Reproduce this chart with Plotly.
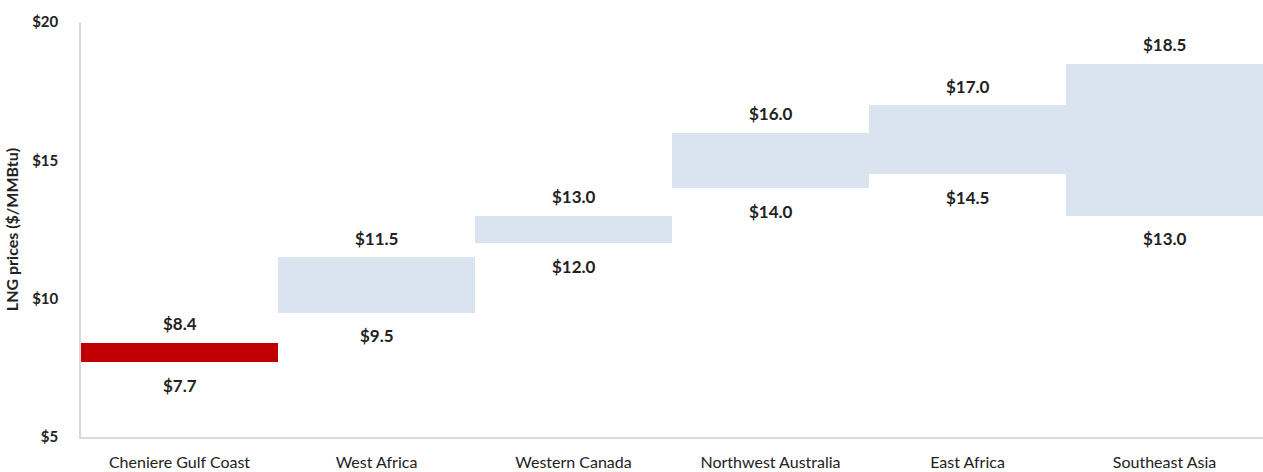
import plotly.graph_objects as go

categories = ["Cheniere Gulf Coast", "West Africa", "Western Canada",
              "Northwest Australia", "East Africa", "Southeast Asia"]
low = [7.7, 9.5, 12.0, 14.0, 14.5, 13.0]
high = [8.4, 11.5, 13.0, 16.0, 17.0, 18.5]
colors = ["#C00000", "#DAE3F0", "#DAE3F0", "#DAE3F0", "#DAE3F0", "#DAE3F0"]
y_ticks = [5, 10, 15, 20]
y_ticklabels = ["$5", "$10", "$15", "$20"]

FONT = "Lato, 'Open Sans', sans-serif"

fig = go.Figure()
fig.add_trace(go.Bar(
    x=categories,
    y=[h - l for h, l in zip(high, low)],
    base=low,
    marker=dict(color=colors, line=dict(width=0)),
    hoverinfo="skip",
    showlegend=False,
))

for c, l, h in zip(categories, low, high):
    fig.add_annotation(x=c, y=h, text=f"${h:.1f}", showarrow=False,
                       yshift=19, font=dict(family=FONT, size=17, color="#222222", weight="bold"))
    fig.add_annotation(x=c, y=l, text=f"${l:.1f}", showarrow=False,
                       yshift=-23, font=dict(family=FONT, size=17, color="#222222", weight="bold"))

fig.update_layout(
    width=1263, height=472,
    margin=dict(l=81, r=0, t=22, b=35),
    plot_bgcolor="white", paper_bgcolor="white",
    bargap=0,
    font=dict(family=FONT, color="#222222"),
    xaxis=dict(
        showline=True, linecolor="#D9D9D9", linewidth=1.5,
        showgrid=False, ticks="", ticklabelstandoff=10,
        tickfont=dict(family=FONT, size=16, color="#222222"),
    ),
    yaxis=dict(
        range=[5, 20], tickvals=y_ticks, ticktext=y_ticklabels,
        showline=True, linecolor="#D9D9D9", linewidth=1.5,
        showgrid=False, zeroline=False, ticks="", ticklabelstandoff=18,
        tickfont=dict(family=FONT, size=15, color="#222222", weight="bold"),
        title=dict(text="LNG prices ($/MMBtu)", standoff=10,
                   font=dict(family=FONT, size=16, color="#222222", weight="bold")),
    ),
)

fig.write_html("out.html")
